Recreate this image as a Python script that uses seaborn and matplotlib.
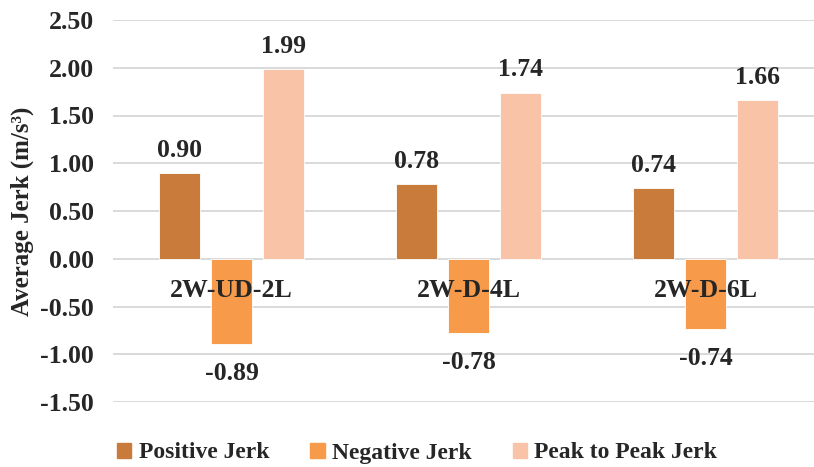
import matplotlib
matplotlib.use("Agg")
import matplotlib.pyplot as plt
import seaborn as sns
import pandas as pd

# Chart data
configs = ["2W-UD-2L", "2W-D-4L", "2W-D-6L"]
positive_jerk = [0.90, 0.78, 0.74]
negative_jerk = [-0.89, -0.78, -0.74]
peak_to_peak_jerk = [1.99, 1.74, 1.66]
series_names = ["Positive Jerk", "Negative Jerk", "Peak to Peak Jerk"]
series_colors = ["#C97B3B", "#F79B4B", "#F9C3A8"]
y_ticks = [-1.50, -1.00, -0.50, 0.00, 0.50, 1.00, 1.50, 2.00, 2.50]

df = pd.DataFrame({
    "config": configs * 3,
    "series": [s for s in series_names for _ in configs],
    "value": positive_jerk + negative_jerk + peak_to_peak_jerk,
})

sns.set_theme(style="white")
plt.rcParams["font.family"] = ["Liberation Serif", "DejaVu Serif"]
plt.rcParams["font.weight"] = "bold"

FS = 18.5

fig = plt.figure(figsize=(8.14, 4.67), dpi=100)
ax = fig.add_axes([113 / 814, 1 - 402 / 467, 1 - 113 / 814, (402 - 20) / 467])

sns.barplot(
    data=df, x="config", y="value", hue="series", order=configs,
    hue_order=series_names, palette=series_colors, saturation=1,
    width=0.66, gap=0.2, edgecolor="white", linewidth=0.6,
    ax=ax, legend=False, zorder=3,
)

ax.set_ylim(-1.5, 2.5)
ax.set_xlim(-0.5, -0.5 + (814 - 113) / 237)
ax.set_yticks(y_ticks)
ax.set_yticklabels([f"{v:.2f}" for v in y_ticks], fontsize=FS, fontweight="bold")
ax.tick_params(axis="y", length=0, pad=14)
ax.grid(axis="y", color="#D9D9D9", linewidth=1.4, zorder=0)
ax.set_axisbelow(True)
for sp in ax.spines.values():
    sp.set_visible(False)

ax.set_xticks([])
ax.set_xlabel("")
ax.set_ylabel("Average Jerk (m/s³)", fontsize=18, fontweight="bold", labelpad=4)

# Category names sit just under the zero line, in front of the bars
for i, name in enumerate(configs):
    ax.text(i, -0.33, name, ha="center", va="center", fontsize=FS,
            fontweight="bold", zorder=5)

for k, cont in enumerate(ax.containers):
    pad = 13 if k == 1 else 8
    ax.bar_label(cont, fmt="%.2f", padding=pad, fontsize=FS, fontweight="bold")

handles = [plt.Rectangle((0, 0), 1, 1, color=c) for c in series_colors]
fig.legend(handles, series_names, loc="center", bbox_to_anchor=(417 / 814, 1 - 453 / 467),
           ncol=3, frameon=False, prop={"size": 17, "weight": "bold"},
           handlelength=0.6, handleheight=0.6, handletextpad=0.3, columnspacing=1.75)

fig.savefig("out.png", dpi=100)
